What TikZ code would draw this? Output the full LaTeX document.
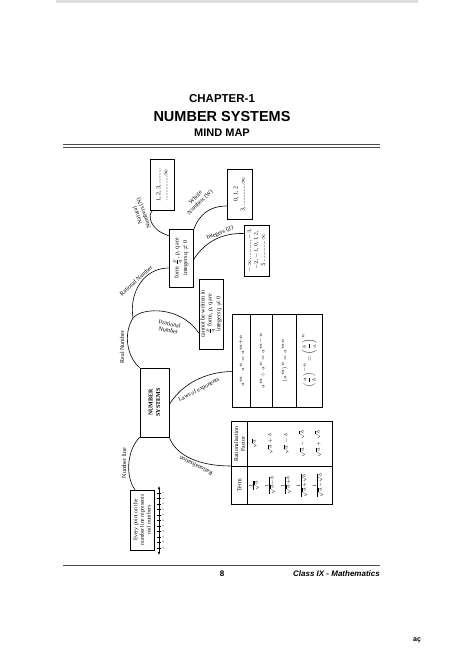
\documentclass[tikz,border=0pt]{standalone}
\usepackage{amsmath}
\usepackage{fontspec}
\setmainfont{Liberation Serif}
\newfontfamily\headfont{Liberation Sans}
\usetikzlibrary{arrows.meta,calc}
\begin{document}
\begin{tikzpicture}[x=1pt,y=-1pt,
  box/.style={draw,line width=0.6pt,inner sep=0pt},
  intxt/.style={font=\fontsize{6}{7}\selectfont,align=center,inner sep=0pt,rotate=90},
  mtxt/.style={font=\fontsize{5}{6}\selectfont,align=center,inner sep=0pt,rotate=90},
  lbl/.style={font=\fontsize{6}{6.5}\selectfont,align=center,inner sep=0pt},
  link/.style={line width=0.6pt},
  rule/.style={line width=0.8pt,black!70}]
\useasboundingbox (0,0) rectangle (474,669);
\fill[white] (0,0) rectangle (474,669);
\fill[black!13] (56,0) rectangle (418,3);

% titles
\node[inner sep=0pt,font=\headfont\bfseries\fontsize{11.5}{12}\selectfont] (t1) at (222,99) {CHAPTER-1};
\node[inner sep=0pt,font=\headfont\bfseries\fontsize{14.5}{15}\selectfont] (t2) at (222,117) {NUMBER SYSTEMS};
\node[inner sep=0pt,font=\headfont\bfseries\fontsize{11}{12}\selectfont] (t3) at (222,133) {MIND MAP};
\draw[rule] (63,144.5) -- (380,144.5);
\draw[rule] (63,147.5) -- (380,147.5);

% boxes
\node[box,minimum width=24pt,minimum height=51pt] (nat) at (162,184.5) {};
\node[intxt] (natT) at (nat) {1, 2, 3, ..........\\ ................$\infty$};
\node[box,minimum width=25pt,minimum height=50pt] (whole) at (239.5,194) {};
\node[intxt] (wholeT) at (whole) {0, 1, 2\\ 3, ..............$\infty$};
\node[box,minimum width=25pt,minimum height=51pt] (int) at (256.5,250.5) {};
\node[intxt,font=\fontsize{5.5}{6.8}\selectfont] (intT) at (int) {$-\infty$, ..........., $-3$,\\ $-2$, $-1$, 0, 1, 2,\\ 3, ...............$\infty$};
\node[box,minimum width=24pt,minimum height=58pt] (rat) at (181,258) {};
\node[intxt] (ratT) at (rat) {form $\frac{p}{q}$, p, q are\\ integers q $\neq$ 0};
\node[box,minimum width=24pt,minimum height=70pt] (irr) at (211,314) {};
\node[intxt] (irrT) at (irr) {cannot be written in\\ $\frac{p}{q}$ form, p, q are\\ integers q $\neq$ 0};
\node[box,minimum width=29pt,minimum height=69pt] (ns) at (154.5,402.5) {};
\node[intxt,font=\bfseries\fontsize{6}{7.5}\selectfont] (nsT) at (ns) {NUMBER\\ SYSTEMS};
\node[box,minimum width=24pt,minimum height=60pt] (nl) at (142,520) {};
\node[intxt,font=\fontsize{5.6}{6.6}\selectfont] (nlT) at (nl) {Every point on the\\ number line represents\\ real numbers};

% laws of exponents table
\node[box,minimum width=90pt,minimum height=93pt] (laws) at (277,360.5) {};
\foreach \dx in {19,41,65}
  \draw[line width=0.6pt] ($(laws.north west)+(\dx,0)$) -- ($(laws.south west)+(\dx,0)$);
\node[mtxt] (l1) at (241.5,360.5) {$a^m\!\cdot a^n\!= a^{m+n}$};
\node[mtxt] (l2) at (262,360.5) {$a^m\!\div a^n\!= a^{m-n}$};
\node[mtxt] (l3) at (285,360.5) {$\left(a^m\right)^n\!= a^{mn}$};
\node[mtxt] (l4) at (309.5,360.5) {$\left(\dfrac{a}{b}\right)^{-n}\!=\left(\dfrac{b}{a}\right)^{n}$};

% rationalisation table
\node[box,minimum width=101pt,minimum height=83pt] (rtab) at (281.5,462.5) {};
\draw[line width=0.6pt] ($(rtab.north west)+(17,0)$) -- ($(rtab.south west)+(17,0)$);
\draw[line width=0.6pt] ($(rtab.north west)+(0,46)$) -- ($(rtab.north east)+(0,46)$);
\node[intxt,font=\fontsize{5.8}{6.6}\selectfont] (hf) at (239.5,444) {Rationalisation\\ Factor};
\node[intxt] (ht) at (239.5,485.5) {Term};
\node[mtxt] (f1) at (254,444) {$\sqrt{a}$};
\node[mtxt] (f2) at (270,444) {$\sqrt{a}+b$};
\node[mtxt] (f3) at (286,444) {$\sqrt{a}-b$};
\node[mtxt] (f4) at (302,444) {$\sqrt{a}-\sqrt{b}$};
\node[mtxt] (f5) at (318,444) {$\sqrt{a}+\sqrt{b}$};
\node[mtxt] (r1) at (254,485.5) {$\frac{1}{\sqrt{a}}$};
\node[mtxt] (r2) at (270,485.5) {$\frac{1}{\sqrt{a}-b}$};
\node[mtxt] (r3) at (286,485.5) {$\frac{1}{\sqrt{a}+b}$};
\node[mtxt] (r4) at (302,485.5) {$\frac{1}{\sqrt{a}+\sqrt{b}}$};
\node[mtxt] (r5) at (318,485.5) {$\frac{1}{\sqrt{a}-\sqrt{b}}$};

% number line
\coordinate (nlA) at (159,486);
\coordinate (nlB) at (159,555);
\draw[line width=0.6pt,{Latex[length=3pt,width=2.6pt]}-{Latex[length=3pt,width=2.6pt]}] (nlA) -- (nlB);
\foreach \i in {-5,...,5}{
  \draw[line width=0.4pt] (156.6,520.5-5.5*\i) -- (161.4,520.5-5.5*\i);
  \node[rotate=90,inner sep=0pt,font=\fontsize{2.6}{3}\selectfont] (nt\i) at (163.2,520.5-5.5*\i) {\i};
}

% connectors
\coordinate (J) at (133,318);
\draw[link] (ns.north west) .. controls (127,357) and (123,334) .. (J);
\draw[link] (J) .. controls (129,292) and (144,268) .. ($(rat.west)+(0,10)$);
\draw[link] (J) .. controls (142,307) and (181,306) .. ($(irr.west)+(0,19)$);
\draw[link] ($(rat.north west)+(0,7)$) .. controls (150,230) and (147,215) .. ($(nat.south west)+(3,0)$);
\draw[link] ($(rat.north east)+(0,2)$) .. controls (199,214) and (210,206) .. ($(whole.west)+(0,12)$);
\draw[link] ($(rat.east)+(0,2)$) .. controls (206,240) and (224,233) .. ($(int.west)+(0,-17)$);
\draw[link] ($(ns.east)+(0,2)$) .. controls (182,384) and (205,372) .. ($(laws.west)+(0,11)$);
\draw[link] (ns.south east) .. controls (176,456) and (200,466) .. ($(rtab.west)+(0,3.5)$);
\draw[link] (ns.south west) .. controls (127,450) and (125,476) .. ($(nl.north)+(-7,0)$);

% connector labels
\node[lbl,rotate=110] (lN) at (141,214) {Natural\\ Numbers (N)};
\node[lbl,rotate=45] (lW) at (198,200) {Whole\\ Numbers (W)};
\node[lbl,rotate=22] (lZ) at (220,233) {Integers (Z)};
\node[lbl,rotate=42] (lQ) at (136,281) {Rational Number};
\node[lbl,rotate=-12] (lI) at (169,327) {Irrational\\ Number};
\node[lbl,rotate=90] (lR) at (122,347) {Real Number};
\node[lbl,rotate=28] (lL) at (199,390) {Laws of exponents};
\node[lbl,rotate=154] (lRa) at (196,466) {Rationalisation};
\node[lbl,rotate=90] (lNl) at (124,463) {Number line};

% footer
\draw[rule,line width=1pt] (63,565.5) -- (380,565.5);
\node[inner sep=0pt,font=\headfont\bfseries\fontsize{8}{9}\selectfont] (pg) at (222,573.5) {8};
\node[inner sep=0pt,anchor=east,font=\headfont\bfseries\itshape\fontsize{8}{9}\selectfont] (cls) at (380,573.5) {Class IX - Mathematics};
\node[inner sep=0pt,font=\headfont\bfseries\fontsize{7}{8}\selectfont] (mk) at (417,640) {aç};
\end{tikzpicture}
\end{document}
